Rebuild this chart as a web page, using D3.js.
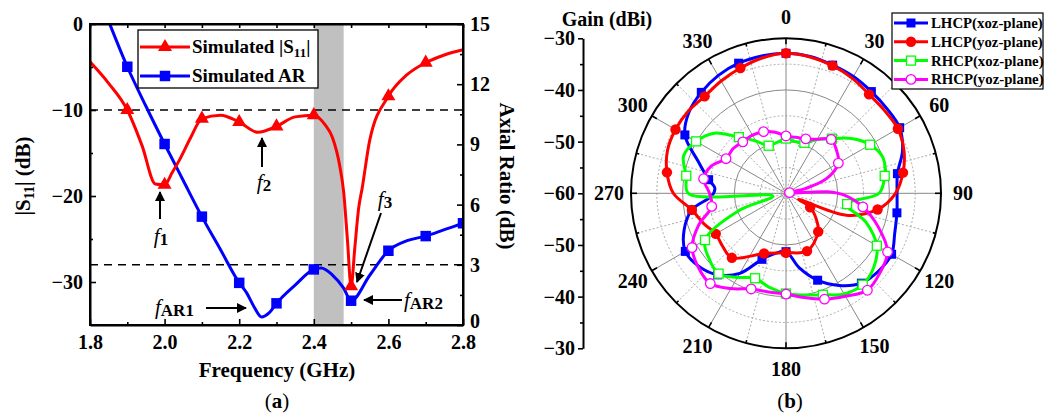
<!DOCTYPE html>
<html>
<head>
<meta charset="utf-8">
<script src="https://cdn.jsdelivr.net/npm/d3@7"></script>
<style>
  body { margin: 0; background: #fff; }
  svg text { font-family: "Liberation Serif", "Times New Roman", serif; font-weight: bold; }
</style>
</head>
<body>
<svg id="chart" width="1057" height="414"></svg>
<script>
// ---- (a) S11 / AR vs frequency ----
const freqTicks = [1.8, 2.0, 2.2, 2.4, 2.6, 2.8];
const freqMinor = [1.9, 2.1, 2.3, 2.5, 2.7];
const s11Ticks = [0, -10, -20, -30];
const s11Minor = [-5, -15, -25];
const arTicks = [0, 3, 6, 9, 12, 15];
const arMinor = [1.5, 4.5, 7.5, 10.5, 13.5];
const bandGHz = [2.4, 2.48];

const s11Freq = [1.8, 1.85, 1.9, 1.94, 1.975, 2.0, 2.02, 2.04, 2.07, 2.1, 2.15, 2.2, 2.25, 2.3, 2.35, 2.4, 2.43, 2.45, 2.47, 2.48, 2.49, 2.5, 2.51, 2.52, 2.53, 2.55, 2.6, 2.65, 2.7, 2.75, 2.8];
const s11Val  = [-4.4, -6.9, -10.0, -14.2, -18.6, -18.7, -17.3, -15.8, -13.2, -11.0, -10.6, -11.4, -12.6, -11.9, -10.8, -10.6, -11.7, -13.2, -16.6, -19.5, -25.0, -30.5, -26.0, -21.5, -19.0, -13.5, -8.4, -5.9, -4.5, -3.6, -3.0];
const s11Marks = [1.9, 2.0, 2.1, 2.2, 2.3, 2.4, 2.5, 2.6, 2.7];

const arFreq = [1.853, 1.9, 1.95, 2.0, 2.05, 2.1, 2.15, 2.2, 2.22, 2.24, 2.26, 2.28, 2.3, 2.35, 2.4, 2.42, 2.45, 2.48, 2.5, 2.55, 2.6, 2.65, 2.7, 2.75, 2.8];
const arVal  = [15.0, 12.87, 10.9, 9.02, 7.2, 5.4, 3.75, 2.1, 1.6, 0.9, 0.4, 0.6, 1.08, 1.99, 2.77, 2.84, 2.49, 1.84, 1.21, 2.48, 3.7, 4.2, 4.43, 4.75, 5.07];
const arMarks = [1.9, 2.0, 2.1, 2.2, 2.3, 2.4, 2.5, 2.6, 2.7, 2.8];

// ---- (b) radiation pattern, [angle deg, gain dBi] ----
const gainTicks = [-60, -50, -40, -30];
const angleTicks = d3.range(0, 360, 30);
const lhcpXoz = [[0,-32.9],[10,-33.1],[20,-33.6],[30,-33.9],[40,-34.3],[50,-34.5],[60,-34.6],[70,-36.0],[80,-38.1],[90,-38.5],[100,-38.2],[110,-37.6],[120,-36.4],[130,-36.6],[140,-37.3],[150,-39.4],[160,-42.1],[170,-45.4],[180,-48.7],[190,-48.2],[200,-46.4],[210,-42.1],[220,-39.4],[230,-38.0],[240,-37.5],[250,-39.0],[260,-41.5],[268,-45.6],[274,-46.2],[280,-44.8],[290,-41.9],[300,-37.4],[310,-35.5],[320,-34.5],[330,-33.7],[340,-33.2],[350,-33.0]];
const lhcpYoz = [[0,-32.9],[10,-33.2],[20,-33.7],[30,-34.3],[40,-35.0],[50,-35.1],[60,-35.0],[70,-35.7],[80,-37.0],[90,-38.8],[100,-42.0],[110,-47.6],[116,-57.3],[120,-54.6],[130,-52.4],[140,-50.3],[160,-48.1],[180,-48.5],[200,-47.6],[220,-43.7],[230,-44.0],[240,-44.3],[250,-43.0],[260,-41.5],[270,-38.2],[280,-36.6],[290,-35.6],[300,-35.3],[310,-35.3],[320,-35.5],[330,-34.9],[340,-34.2],[350,-33.4]];
const rhcpXoz = [[0,-49.4],[10,-49.8],[20,-49.6],[30,-48.0],[40,-46.2],[50,-43.5],[60,-41.2],[70,-40.0],[80,-40.6],[90,-42.0],[100,-48.0],[110,-43.5],[120,-39.7],[130,-37.8],[140,-36.9],[150,-37.5],[160,-39.1],[170,-40.0],[180,-40.6],[190,-41.5],[200,-42.5],[210,-41.2],[220,-39.7],[230,-40.5],[240,-41.9],[250,-50.5],[258,-57.4],[270,-41.1],[280,-40.4],[290,-38.9],[300,-39.9],[310,-41.9],[320,-45.8],[330,-48.3],[340,-50.2],[350,-50.0]];
const rhcpYoz = [[0,-48.9],[10,-49.0],[20,-48.8],[30,-47.9],[40,-46.4],[50,-47.2],[60,-48.3],[70,-51.6],[76,-56.0],[80,-59.3],[88,-52.0],[92,-48.6],[100,-44.9],[110,-41.0],[120,-37.3],[130,-36.2],[140,-35.5],[150,-37.0],[160,-38.2],[170,-39.5],[180,-40.5],[190,-40.6],[200,-40.3],[210,-38.7],[220,-37.2],[230,-37.8],[240,-39.0],[250,-42.0],[260,-45.4],[270,-45.2],[280,-43.8],[290,-44.6],[300,-46.6],[310,-46.6],[320,-47.0],[330,-47.0],[340,-47.3],[350,-48.0]];

const FONT = '"Liberation Serif", "Times New Roman", serif';
const svg = d3.select('#chart');

const defs = svg.append('defs');
defs.append('marker')
  .attr('id', 'arrow').attr('viewBox', '0 0 10 10').attr('refX', 9).attr('refY', 5)
  .attr('markerWidth', 5).attr('markerHeight', 5).attr('markerUnits', 'strokeWidth')
  .attr('orient', 'auto')
  .append('path').attr('d', 'M0,0L10,5L0,10Z').attr('fill', '#000');
defs.append('clipPath').attr('id', 'clipA')
  .append('rect').attr('x', 90).attr('y', 24).attr('width', 373).attr('height', 301);

function styleAxis(g, size) {
  g.attr('font-size', size).attr('font-family', FONT);
  g.selectAll('line').attr('stroke-width', 1.6);
  g.select('.domain').attr('stroke-width', 2);
}

// ================= (a) =================
const x = d3.scaleLinear().domain([1.8, 2.8]).range([90, 463]);
const yS = d3.scaleLinear().domain([-35, 0]).range([325, 24]);
const yAR = d3.scaleLinear().domain([0, 15]).range([325, 24]);

const ga = svg.append('g');

ga.append('rect')
  .attr('x', x(bandGHz[0])).attr('y', 24)
  .attr('width', x(bandGHz[1]) - x(bandGHz[0])).attr('height', 301)
  .attr('fill', '#c0c0c0');

ga.append('line').attr('x1', 90).attr('x2', 463).attr('y1', yS(-10)).attr('y2', yS(-10))
  .attr('stroke', '#000').attr('stroke-width', 1.5).attr('stroke-dasharray', '8,6');
ga.append('line').attr('x1', 90).attr('x2', 463).attr('y1', yAR(3)).attr('y2', yAR(3))
  .attr('stroke', '#000').attr('stroke-width', 1.5).attr('stroke-dasharray', '8,6');

const curves = ga.append('g').attr('clip-path', 'url(#clipA)');
const s11Line = d3.line().x(d => x(d[0])).y(d => yS(d[1])).curve(d3.curveMonotoneX);
const arLine = d3.line().x(d => x(d[0])).y(d => yAR(d[1])).curve(d3.curveMonotoneX);

curves.append('path').datum(arFreq.map((f, i) => [f, arVal[i]]))
  .attr('d', arLine).attr('fill', 'none').attr('stroke', '#0000ff').attr('stroke-width', 3);
curves.append('path').datum(s11Freq.map((f, i) => [f, s11Val[i]]))
  .attr('d', s11Line).attr('fill', 'none').attr('stroke', '#ff0000').attr('stroke-width', 3);

const tri = d3.symbol(d3.symbolTriangle, 85);
const sq = d3.symbol(d3.symbolSquare, 110);

curves.selectAll('path.armk')
  .data(arMarks.map(f => [f, arVal[arFreq.indexOf(f)]]))
  .join('path').attr('class', 'armk')
  .attr('transform', d => `translate(${x(d[0])},${yAR(d[1])})`)
  .attr('d', sq).attr('fill', '#0000ff');
curves.selectAll('path.s11mk')
  .data(s11Marks.map(f => [f, s11Val[s11Freq.indexOf(f)]]))
  .join('path').attr('class', 's11mk')
  .attr('transform', d => `translate(${x(d[0])},${yS(d[1])})`)
  .attr('d', tri).attr('fill', '#ff0000');

// axes
ga.append('g').attr('transform', 'translate(0,325)')
  .call(d3.axisBottom(x).tickValues(freqTicks).tickFormat(d3.format('.1f')).tickSizeInner(-6).tickSizeOuter(0).tickPadding(10))
  .call(g => styleAxis(g, 20));
ga.append('g').attr('transform', 'translate(0,325)')
  .call(d3.axisBottom(x).tickValues(freqMinor).tickFormat('').tickSizeInner(-3).tickSizeOuter(0))
  .call(g => { styleAxis(g, 20); g.select('.domain').remove(); });
ga.append('g').attr('transform', 'translate(0,24)')
  .call(d3.axisTop(x).tickValues(freqTicks.concat(freqMinor)).tickFormat('').tickSizeInner(-4).tickSizeOuter(0))
  .call(g => styleAxis(g, 20));
ga.append('g').attr('transform', 'translate(90,0)')
  .call(d3.axisLeft(yS).tickValues(s11Ticks).tickSizeInner(-6).tickSizeOuter(0).tickPadding(7))
  .call(g => styleAxis(g, 20));
ga.append('g').attr('transform', 'translate(90,0)')
  .call(d3.axisLeft(yS).tickValues(s11Minor).tickFormat('').tickSizeInner(-3).tickSizeOuter(0))
  .call(g => { styleAxis(g, 20); g.select('.domain').remove(); });
ga.append('g').attr('transform', 'translate(463,0)')
  .call(d3.axisRight(yAR).tickValues(arTicks).tickSizeInner(-6).tickSizeOuter(0).tickPadding(7))
  .call(g => styleAxis(g, 20))
  .call(g => g.selectAll('.tick text').filter(d => d === 0).attr('dy', '0.1em'));
ga.append('g').attr('transform', 'translate(463,0)')
  .call(d3.axisRight(yAR).tickValues(arMinor).tickFormat('').tickSizeInner(-3).tickSizeOuter(0))
  .call(g => { styleAxis(g, 20); g.select('.domain').remove(); });

ga.append('rect').attr('x', 90).attr('y', 24).attr('width', 373).attr('height', 301)
  .attr('fill', 'none').attr('stroke', '#000').attr('stroke-width', 2);

// titles
ga.append('text').attr('x', 277).attr('y', 377).attr('text-anchor', 'middle')
  .attr('font-size', 21).text('Frequency (GHz)');
const ys = ga.append('text').attr('transform', 'translate(30,176) rotate(-90)')
  .attr('text-anchor', 'middle').attr('font-size', 21);
ys.append('tspan').text('|S');
ys.append('tspan').attr('font-size', 14).attr('dy', 4).text('11');
ys.append('tspan').attr('dy', -4).text('| (dB)');
ga.append('text').attr('transform', 'translate(500,176) rotate(90)')
  .attr('text-anchor', 'middle').attr('font-size', 21).text('Axial Ratio (dB)');

const la = ga.append('text').attr('x', 277).attr('y', 408).attr('text-anchor', 'middle').attr('font-size', 21);
la.append('tspan').attr('font-weight', 'normal').text('(');
la.append('tspan').text('a');
la.append('tspan').attr('font-weight', 'normal').text(')');

// annotations
function arrow(g, x1, y1, x2, y2) {
  g.append('line').attr('x1', x1).attr('y1', y1).attr('x2', x2).attr('y2', y2)
    .attr('stroke', '#000').attr('stroke-width', 2).attr('marker-end', 'url(#arrow)');
}
function fLabel(g, px, py, sub, anchor) {
  const t = g.append('text').attr('x', px).attr('y', py).attr('text-anchor', anchor || 'middle').attr('font-size', 21);
  t.append('tspan').attr('font-style', 'italic').attr('font-weight', 'normal').text('f');
  t.append('tspan').attr('font-size', 17).attr('dy', 2).text(sub);
}
arrow(ga, 160, 219, 160, 192);
fLabel(ga, 161, 243, '1');
arrow(ga, 262, 167, 262, 138);
fLabel(ga, 264, 189, '2');
arrow(ga, 381, 213, 357, 282);
fLabel(ga, 385, 206, '3');
arrow(ga, 206, 308, 246, 308);
fLabel(ga, 155, 314, 'AR1', 'start');
arrow(ga, 402, 300, 364, 300);
fLabel(ga, 404, 307, 'AR2', 'start');

// legend (a)
const lga = ga.append('g');
lga.append('rect').attr('x', 138).attr('y', 30).attr('width', 180).attr('height', 58)
  .attr('fill', '#fff').attr('stroke', '#000').attr('stroke-width', 1.3);
const legA = [
  { y: 47, color: '#ff0000', sym: tri },
  { y: 76, color: '#0000ff', sym: sq }
];
legA.forEach(d => {
  lga.append('line').attr('x1', 140).attr('x2', 190).attr('y1', d.y).attr('y2', d.y)
    .attr('stroke', d.color).attr('stroke-width', 3);
  lga.append('path').attr('transform', `translate(165,${d.y})`).attr('d', d.sym).attr('fill', d.color);
});
const t1 = lga.append('text').attr('x', 192).attr('y', 53).attr('font-size', 19);
t1.append('tspan').text('Simulated |S');
t1.append('tspan').attr('font-size', 13).attr('dy', 4).text('11');
t1.append('tspan').attr('dy', -4).text('|');
lga.append('text').attr('x', 192).attr('y', 82).attr('font-size', 19).text('Simulated AR');

// ================= (b) =================
const cx = 786, cy = 193.3, R = 155;
const r = d3.scaleLinear().domain([-60, -30]).range([0, R]);
const gb = svg.append('g');
const pc = gb.append('g').attr('transform', `translate(${cx},${cy})`);
const rad = a => a * Math.PI / 180;

// grid
[-55, -45, -35].forEach(v => pc.append('circle').attr('r', r(v)).attr('fill', 'none')
  .attr('stroke', '#aaa').attr('stroke-width', 1).attr('stroke-dasharray', '2,2'));
[-50, -40].forEach(v => pc.append('circle').attr('r', r(v)).attr('fill', 'none')
  .attr('stroke', '#888').attr('stroke-width', 1));
d3.range(15, 360, 30).forEach(a => pc.append('line')
  .attr('x2', R * Math.sin(rad(a))).attr('y2', -R * Math.cos(rad(a)))
  .attr('stroke', '#aaa').attr('stroke-width', 1).attr('stroke-dasharray', '2,2'));
angleTicks.forEach(a => pc.append('line')
  .attr('x2', R * Math.sin(rad(a))).attr('y2', -R * Math.cos(rad(a)))
  .attr('stroke', '#888').attr('stroke-width', 1));
pc.append('circle').attr('r', R).attr('fill', 'none').attr('stroke', '#000').attr('stroke-width', 2);
d3.range(0, 360, 15).forEach(a => {
  const len = a % 30 === 0 ? 6 : 3;
  pc.append('line')
    .attr('x1', (R - len) * Math.sin(rad(a))).attr('y1', -(R - len) * Math.cos(rad(a)))
    .attr('x2', R * Math.sin(rad(a))).attr('y2', -R * Math.cos(rad(a)))
    .attr('stroke', '#000').attr('stroke-width', 1.6);
});
angleTicks.forEach(a => pc.append('text')
  .attr('x', 177 * Math.sin(rad(a))).attr('y', -176 * Math.cos(rad(a)))
  .attr('text-anchor', 'middle').attr('dominant-baseline', 'central')
  .attr('font-size', 20).text(a));

// series
const radial = d3.lineRadial().angle(d => rad(d[0])).radius(d => r(d[1]))
  .curve(d3.curveCatmullRomClosed.alpha(0.5));
const series = [
  { data: lhcpXoz, color: '#0000ff', shape: 'sq', open: false },
  { data: lhcpYoz, color: '#ff0000', shape: 'ci', open: false },
  { data: rhcpXoz, color: '#00ff00', shape: 'sq', open: true },
  { data: rhcpYoz, color: '#ff00ff', shape: 'ci', open: true }
];
function drawMarker(g, s, px, py) {
  if (s.shape === 'sq') {
    g.append('rect').attr('x', px - 4.5).attr('y', py - 4.5).attr('width', 9).attr('height', 9)
      .attr('fill', s.open ? '#fff' : s.color).attr('stroke', s.color).attr('stroke-width', s.open ? 1.3 : 0);
  } else {
    g.append('circle').attr('cx', px).attr('cy', py).attr('r', s.open ? 4.8 : 5.2)
      .attr('fill', s.open ? '#fff' : s.color).attr('stroke', s.color).attr('stroke-width', s.open ? 1.3 : 0);
  }
}
series.forEach(s => {
  const g = pc.append('g');
  g.append('path').datum(s.data).attr('d', radial)
    .attr('fill', 'none').attr('stroke', s.color).attr('stroke-width', 3);
  s.data.filter(d => d[0] % 20 === 0).forEach(d => {
    drawMarker(g, s, r(d[1]) * Math.sin(rad(d[0])), -r(d[1]) * Math.cos(rad(d[0])));
  });
});

// radial axis on the left
const rUp = d3.scaleLinear().domain([-60, -30]).range([cy, cy - R]);
const rDn = d3.scaleLinear().domain([-60, -30]).range([cy, cy + R]);
gb.append('g').attr('transform', 'translate(583,0)')
  .call(d3.axisLeft(rUp).tickValues(gainTicks).tickSizeInner(5).tickSizeOuter(0).tickPadding(3))
  .call(g => styleAxis(g, 20));
gb.append('g').attr('transform', 'translate(583,0)')
  .call(d3.axisLeft(rDn).tickValues(gainTicks.slice(1)).tickSizeInner(5).tickSizeOuter(0).tickPadding(3))
  .call(g => styleAxis(g, 20));
[rUp, rDn].forEach(sc => gb.append('g').attr('transform', 'translate(583,0)')
  .call(d3.axisLeft(sc).tickValues([-55, -45, -35]).tickFormat('').tickSizeInner(3).tickSizeOuter(0))
  .call(g => { styleAxis(g, 20); g.select('.domain').remove(); }));

gb.append('text').attr('x', 607).attr('y', 26).attr('text-anchor', 'middle')
  .attr('font-size', 20).text('Gain (dBi)');
const lb = gb.append('text').attr('x', 790).attr('y', 408).attr('text-anchor', 'middle').attr('font-size', 21);
lb.append('tspan').attr('font-weight', 'normal').text('(');
lb.append('tspan').text('b');
lb.append('tspan').attr('font-weight', 'normal').text(')');

// legend (b)
const legNames = ['LHCP(xoz-plane)', 'LHCP(yoz-plane)', 'RHCP(xoz-plane)', 'RHCP(yoz-plane)'];
const lgb = gb.append('g');
lgb.append('rect').attr('x', 892).attr('y', 13).attr('width', 151).attr('height', 76)
  .attr('fill', '#fff').attr('stroke', '#000').attr('stroke-width', 1.2);
series.forEach((s, i) => {
  const yy = 23 + i * 18.8;
  lgb.append('line').attr('x1', 894).attr('x2', 928).attr('y1', yy).attr('y2', yy)
    .attr('stroke', s.color).attr('stroke-width', 3);
  drawMarker(lgb, s, 911, yy);
  lgb.append('text').attr('x', 931).attr('y', yy + 5).attr('font-size', 14.8).text(legNames[i]);
});
</script>
</body>
</html>
